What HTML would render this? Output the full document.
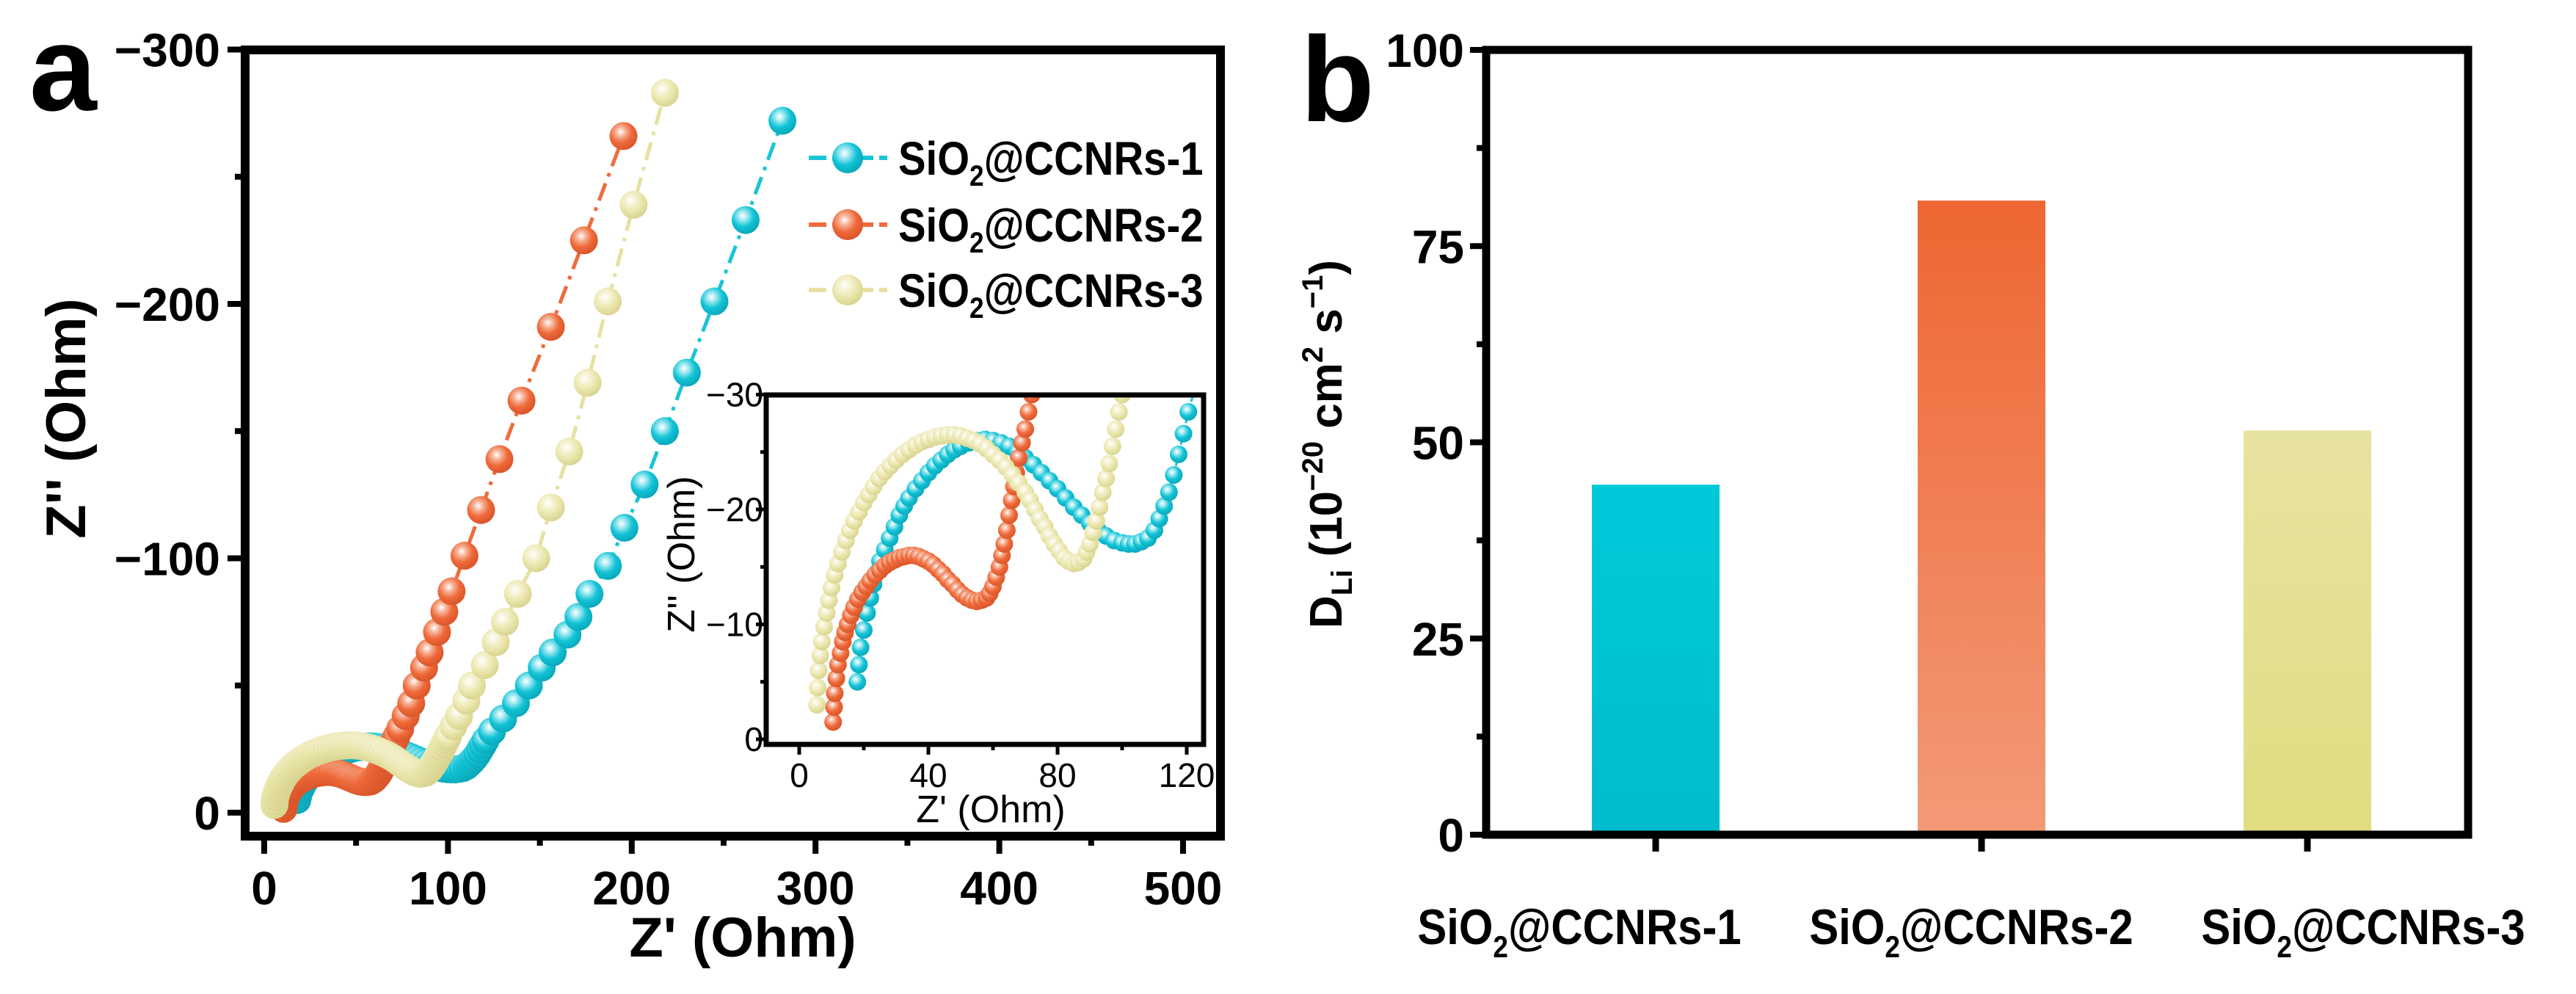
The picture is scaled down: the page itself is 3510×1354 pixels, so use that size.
<!DOCTYPE html>
<html><head><meta charset="utf-8"><style>
html,body{margin:0;padding:0;background:#fff;}
svg{display:block;font-family:"Liberation Sans",Arial,sans-serif;font-weight:bold;}
</style></head><body>
<svg id="fig" width="3510" height="1354" viewBox="0 0 3510 1354" xmlns="http://www.w3.org/2000/svg">
<defs>
<radialGradient id="gc" cx="0.4" cy="0.35" r="0.65"><stop offset="0" stop-color="#ffffff"/><stop offset="0.25" stop-color="#9ee9f1"/><stop offset="0.6" stop-color="#12c3d6"/><stop offset="1" stop-color="#0aa9bb"/></radialGradient>
<radialGradient id="go" cx="0.4" cy="0.35" r="0.65"><stop offset="0" stop-color="#ffffff"/><stop offset="0.25" stop-color="#f7b59b"/><stop offset="0.6" stop-color="#ef6a3a"/><stop offset="1" stop-color="#d9562a"/></radialGradient>
<radialGradient id="gy" cx="0.4" cy="0.35" r="0.65"><stop offset="0" stop-color="#ffffff"/><stop offset="0.3" stop-color="#f5f2d2"/><stop offset="0.65" stop-color="#e9e5a9"/><stop offset="1" stop-color="#d9d491"/></radialGradient>
<linearGradient id="b1" x1="0" y1="0" x2="0" y2="1"><stop offset="0" stop-color="#00c9d9"/><stop offset="1" stop-color="#00bccc"/></linearGradient>
<linearGradient id="b2" x1="0" y1="0" x2="0" y2="1"><stop offset="0" stop-color="#ee6632"/><stop offset="1" stop-color="#f39a78"/></linearGradient>
<linearGradient id="b3" x1="0" y1="0" x2="0" y2="1"><stop offset="0" stop-color="#e7e3a0"/><stop offset="1" stop-color="#e0dc80"/></linearGradient>
<clipPath id="clipMain"><rect x="334" y="68" width="1329" height="1071"/></clipPath>
<clipPath id="clipInset"><rect x="1044" y="538" width="596" height="476"/></clipPath>
</defs>
<g id="pa"></g>
<g id="pb"></g>
</svg>
<script>
// ---------- Panel a data (Z', -Z'') ----------
const s1x = [18,18.5,19,20,21,22,23,24,25,26.5,28,29.5,31,32.5,34,36,38,40,42,44,46,48,50,52.5,55,57.5,60,62.5,65,67.5,70,72.5,75,77.5,80,82.5,85,87.5,90,92.5,95,97.5,100,102,104,106,108,110,111.5,113,114.5,116,117.5,119,120.5,124,130,137,144,151,157,165,171,177,187,196,207,218,230,245,262,282];
const s1y = [5,6.5,8,9.5,11,12.3,13.5,14.5,15.5,16.5,17.5,18.5,19.5,20.3,21,21.8,22.5,23.2,23.8,24.3,24.8,25.2,25.5,25.8,26,26.1,26,25.8,25.5,25,24.5,23.9,23.2,22.5,21.8,21,20.2,19.5,18.8,18.2,17.7,17.3,17.1,17,17,17.2,17.5,18.2,19.2,20.3,21.5,23,24.8,26.6,28.5,32,37,43,50,57,63,70,77,86,97,112,129,150,173,201,233,272];
const s2x = [10.5,10.8,11,11.5,12,12.8,13.5,14.2,15,16,17,18.2,19.5,20.8,22,23.5,25,26.5,28,29.5,31,32.5,34,35.5,37,38.5,40,41.5,43,44.5,46,47.5,49,50.5,52,53.5,55,56.5,58,59,60,61,62,62.8,63.5,64.3,65,65.8,66.5,67.2,68,69,70,71,72,74,77,80,83,87,90,94,98,102,109,118,128,140,156,174,195.5];
const s2y = [1.5,2.8,4,5.3,6.5,7.5,8.5,9.3,10,10.8,11.5,12.2,12.8,13.3,13.8,14.3,14.7,15.1,15.4,15.6,15.8,15.9,16,16,15.9,15.7,15.5,15.2,14.8,14.4,13.9,13.5,13,12.6,12.3,12.1,12,12.1,12.3,12.7,13.3,14.1,15,16,17,18.2,19.5,20.8,22,23.2,24.5,25.8,27,28.5,30,33,38,43,50,57,63,71,79,87,101,119,139,162,191,225,266];
const s3x = [5.5,5.7,6,6.5,7,7.7,8.5,9.2,10,11,12,13.2,14.5,15.7,17,18.5,20,21.5,23,24.7,26.5,28.2,30,32,34,36,38,40,42,44,46,48,50,52,54,56,58,60,62,64,66,68,70,71.5,73,74.5,76,77.5,79,80.5,82,83.5,85,86.5,88,89,90,91,92,93,94,95,96,97,98,99,100,103,106,110,113,120,126,131,138,148,156,166,176,187,201,218];
const s3y = [3,4.5,6,7.3,8.5,9.8,11,12.1,13.2,14.3,15.3,16.3,17.3,18.2,19,19.8,20.6,21.3,22,22.7,23.3,23.8,24.3,24.8,25.2,25.6,25.9,26.1,26.3,26.4,26.5,26.5,26.4,26.2,26,25.7,25.3,24.8,24.3,23.7,23,22.3,21.5,20.8,20,19.2,18.5,17.7,17,16.4,15.8,15.5,15.3,15.4,15.7,16.3,17,18,19,20.2,21.5,22.7,24,25.5,27,28.5,30,34,38,44,50,58,67,75,86,100,120,142,169,201,239,283];
const seriesNames = ["SiO2@CCNRs-1","SiO2@CCNRs-2","SiO2@CCNRs-3"];
const xTicksA = [0,100,200,300,400,500];
const yTicksA = [0,100,200,300];
const xTicksIn = [0,40,80,120];
const yTicksIn = [0,10,20,30];
// ---------- Panel b data ----------
const cats = ["1","2","3"];
const barVals = [44.6,80.8,51.5];
const yTicksB = [0,25,50,75,100];

const NS="http://www.w3.org/2000/svg";
function mk(tag, parent, attrs){const e=document.createElementNS(NS,tag);for(const k in attrs)e.setAttribute(k,attrs[k]);parent.appendChild(e);return e;}

const pa=document.getElementById('pa');
const pb=document.getElementById('pb');
const ax = v => 360 + v*2.504;
const ay = v => 1107 - v*3.465;
const ix = v => 1089 + v*4.4;
const iy = v => 1007 - v*15.65;

const cols=["#19c4d6","#ef6b3c","#e6e1a0"];
const grads=["url(#gc)","url(#go)","url(#gy)"];
const XS=[s1x,s2x,s3x], YS=[s1y,s2y,s3y];

function drawSeries(parent, fx, fy, r, lw, clip, tag){
  const g=mk('g',parent,{'clip-path':'url(#'+clip+')'});
  
  
  for(let s=0;s<3;s++){
    let d='';
    for(let i=0;i<XS[s].length;i++){d+=(i?'L':'M')+fx(XS[s][i]).toFixed(1)+' '+fy(YS[s][i]).toFixed(1);}
    const p=mk('path',g,{d:d,fill:'none',stroke:cols[s],'stroke-width':lw,'stroke-dasharray':(lw*5)+' '+(lw*2)+' '+(lw)+' '+(lw*2)});
    
    
    for(let i=0;i<XS[s].length;i++){
      const c=mk('circle',g,{cx:fx(XS[s][i]).toFixed(1),cy:fy(YS[s][i]).toFixed(1),r:r,fill:grads[s]});
      
      
    }
  }
}
drawSeries(pa, ax, ay, 19, 5, 'clipMain','main');

const fr=mk('rect',pa,{x:334,y:68,width:1329,height:1071,fill:'none',stroke:'#000','stroke-width':12});


for(let v=0;v<=500;v+=50){
  const major=(v%100===0);
  const t=mk('line',pa,{x1:ax(v),x2:ax(v),y1:1139,y2:major?1163:1152,stroke:'#000','stroke-width':8});
  
  
}
xTicksA.forEach(v=>{
  const t=mk('text',pa,{x:ax(v),y:1232,'font-size':64,'text-anchor':'middle'});t.textContent=v;
  
  
});
for(let v=0;v<=300;v+=50){
  const major=(v%100===0);
  const t=mk('line',pa,{x1:major?310:320,x2:334,y1:ay(v),y2:ay(v),stroke:'#000','stroke-width':8});
  
  
}
yTicksA.forEach(v=>{
  const t=mk('text',pa,{x:300,y:ay(v)+23,'font-size':64,'text-anchor':'end'});t.textContent=(v===0?'0':'\u2212'+v);
  
  
});
let t=mk('text',pa,{x:1012,y:1303,'font-size':76,'text-anchor':'middle'});t.textContent="Z' (Ohm)";


t=mk('text',pa,{x:0,y:0,'font-size':76,'text-anchor':'middle',transform:'translate(116,570) rotate(-90)'});t.textContent="Z'' (Ohm)";


t=mk('text',pa,{x:40,y:150,'font-size':165});t.textContent="a";



const legY=[215,306,395];
for(let s=0;s<3;s++){
  const l=mk('line',pa,{x1:1102,x2:1209,y1:legY[s],y2:legY[s],stroke:cols[s],'stroke-width':6,'stroke-dasharray':'24 8'});
  
  
  const c=mk('circle',pa,{cx:1155,cy:legY[s],r:21,fill:grads[s]});
  
  
  const tx=mk('text',pa,{x:0,y:0,'font-size':64,transform:'translate(1224,'+(legY[s]+23)+') scale(0.88,1)'});
  tx.innerHTML='SiO<tspan font-size="40" dy="15">2</tspan><tspan dy="-15">@CCNRs-'+(s+1)+'</tspan>';
  
  
}

const ib=mk('rect',pa,{x:1044,y:538,width:596,height:476,fill:'#fff'});


drawSeries(pa, ix, iy, 12, 3, 'clipInset','inset');
const ifr=mk('rect',pa,{x:1044,y:538,width:596,height:476,fill:'none',stroke:'#000','stroke-width':7});


for(let v=0;v<=120;v+=20){
  const tk=mk('line',pa,{x1:ix(v),x2:ix(v),y1:1014,y2:(v%40===0)?1028:1022,stroke:'#000','stroke-width':5});
  
  
}
xTicksIn.forEach(v=>{
  const tt=mk('text',pa,{x:ix(v),y:1072,'font-size':46,'font-weight':'normal','text-anchor':'middle'});tt.textContent=v;
  
  
});
for(let v=0;v<=30;v+=5){
  const tk=mk('line',pa,{x1:(v%10===0)?1030:1036,x2:1044,y1:iy(v),y2:iy(v),stroke:'#000','stroke-width':5});
  
  
}
yTicksIn.forEach(v=>{
  const tt=mk('text',pa,{x:1040,y:iy(v)+16,'font-size':46,'font-weight':'normal','text-anchor':'end'});tt.textContent=(v===0?'0':'\u2212'+v);
  
  
});
t=mk('text',pa,{x:1350,y:1120,'font-size':52,'font-weight':'normal','text-anchor':'middle'});t.textContent="Z' (Ohm)";


t=mk('text',pa,{x:0,y:0,'font-size':52,'font-weight':'normal','text-anchor':'middle',transform:'translate(946,755) rotate(-90)'});t.textContent="Z'' (Ohm)";



// ---------- Panel b ----------
const by = v => 1137 - v*10.69;
const bx = i => 2256 + i*444;
const bw = 174;
const bfills=["url(#b1)","url(#b2)","url(#b3)"];
barVals.forEach((v,i)=>{
  const r=mk('rect',pb,{x:bx(i)-bw/2,y:by(v),width:bw,height:by(0)-by(v),fill:bfills[i]});
  
  
});
const bfr=mk('path',pb,{d:'M2025 68 H3363 V1137 H2025 Z',fill:'none',stroke:'#000','stroke-width':11});


for(let v=0;v<=100;v+=12.5){
  const major=(v%25===0);
  const tk=mk('line',pb,{x1:major?2003:2012,x2:2025,y1:by(v),y2:by(v),stroke:'#000','stroke-width':8});
  
  
}
yTicksB.forEach(v=>{
  const tt=mk('text',pb,{x:1995,y:by(v)+23,'font-size':64,'text-anchor':'end'});tt.textContent=v;
  
  
});
cats.forEach((c,i)=>{
  const tk=mk('line',pb,{x1:bx(i),x2:bx(i),y1:1140,y2:1160,stroke:'#000','stroke-width':9});
  
  
  const lx = 2152 + i*534;
  const tx=mk('text',pb,{x:0,y:0,'font-size':68,'text-anchor':'middle',transform:'translate('+lx+',1286) scale(0.88,1)'});
  tx.innerHTML='SiO<tspan font-size="42" dy="18">2</tspan><tspan dy="-18">@CCNRs-'+c+'</tspan>';
  
  
});
t=mk('text',pb,{x:0,y:0,'font-size':62,'text-anchor':'middle',transform:'translate(1828,605) rotate(-90)'});
t.innerHTML='D<tspan font-size="40" dy="14">Li</tspan><tspan dy="-14"> (10</tspan><tspan font-size="40" dy="-26">\u221220</tspan><tspan dy="26"> cm</tspan><tspan font-size="40" dy="-26">2</tspan><tspan dy="26"> s</tspan><tspan font-size="40" dy="-26">\u22121</tspan><tspan dy="26">)</tspan>';


t=mk('text',pb,{x:1772,y:165,'font-size':165});t.textContent="b";


</script>
</body></html>
